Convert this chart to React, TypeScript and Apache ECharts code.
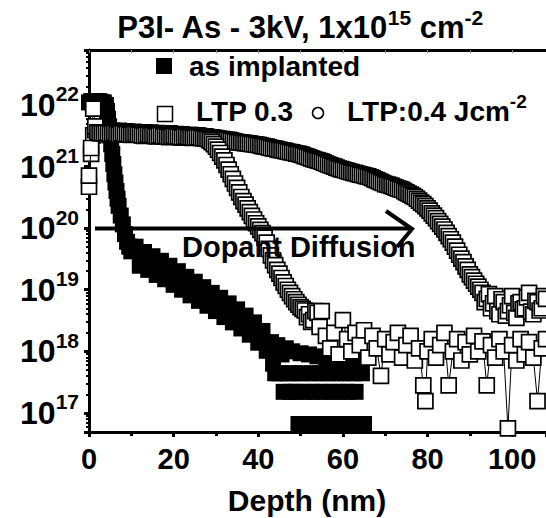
import React, { useEffect, useRef } from "react";
import * as echarts from "echarts";

const FONT = '"Liberation Sans", Arial, Helvetica, sans-serif';

// As implanted profile: [depth nm, concentration cm^-3]
const asImplanted: number[][] = [
  [0, 1.1e22], [0.5, 1.15e22], [1, 1.15e22], [1.5, 1.15e22], [2, 1.15e22], [2.5, 1.15e22], [3, 1.1e22], [3.5, 1.1e22],
  [4, 1.0e22], [4.25, 8e21], [4.5, 6e21], [4.75, 4.5e21], [5, 3.2e21], [5.25, 2.3e21], [5.5, 1.6e21], [5.75, 1.1e21],
  [6, 7.5e20], [6.25, 5.5e20], [6.5, 4e20], [6.75, 3e20], [7, 2.3e20], [7.5, 1.6e20], [8, 1.15e20], [8.5, 8e19],
  [9, 6e19], [9.5, 5e19], [10, 4.2e19], [11, 5.0e19], [12, 2.45e19], [13, 4.1e19], [14, 2.1e19], [15, 3.5e19],
  [16, 1.74e19], [17, 2.95e19], [18, 1.48e19], [19, 2.45e19], [20, 1.2e19], [21, 2.0e19], [22, 1.0e19], [23, 1.62e19],
  [24, 8.1e18], [25, 1.35e19], [26, 6.6e18], [27, 1.1e19], [28, 5.5e18], [29, 8.9e18], [30, 4.5e18], [31, 7.4e18],
  [32, 3.6e18], [33, 6.0e18], [34, 2.95e18], [35, 4.8e18], [36, 2.35e18], [37, 3.8e18], [38, 1.86e18], [39, 2.95e18],
  [40, 1.38e18], [41, 2.14e18], [42, 1.02e18], [43, 1.41e18], [43.5, 6.3e17], [44, 4.4e17], [44.5, 1.26e18], [45, 4.4e17],
  [45.5, 8.9e17], [46, 2.2e17], [46.5, 1.12e18], [47, 4.4e17], [47.5, 2.2e17], [48, 1.0e18], [48.5, 4.4e17], [49, 2.2e17],
  [49.5, 6.6e16], [50, 9.3e17], [50.5, 4.4e17], [51, 2.2e17], [51.5, 6.6e16], [52, 8.9e17], [52.5, 4.4e17], [53, 2.2e17],
  [53.5, 6.6e16], [54, 8.3e17], [54.5, 4.4e17], [55, 2.2e17], [55.5, 6.6e16], [56, 7.9e17], [56.5, 4.4e17], [57, 2.2e17],
  [57.5, 6.6e16], [58, 7.9e17], [58.5, 4.4e17], [59, 2.2e17], [59.5, 6.6e16], [60, 7.9e17], [60.5, 4.4e17], [61, 2.2e17],
  [61.5, 6.6e16], [62, 7.9e17], [62.5, 4.4e17], [63, 2.2e17], [63.5, 6.6e16], [64, 7.9e17], [64.5, 4.4e17], [65, 6.6e16],
];

// LTP 0.4 J/cm2 profile
const ltp04: number[][] = [
  [0, 4.7e20], [0.5, 1.6e21], [1, 3.2e21], [1.5, 3.9e21], [2, 3.8e21], [2.5, 3.7e21], [3, 3.6e21], [3.5, 3.8e21],
  [4, 3.9e21], [4.5, 3.7e21], [5, 3.7e21], [5.5, 3.8e21], [6, 3.6e21], [6.5, 3.7e21], [7, 3.8e21], [7.5, 3.6e21],
  [8, 3.5e21], [8.5, 3.7e21], [9, 3.7e21], [9.5, 3.55e21], [10, 3.5e21], [10.5, 3.65e21], [11, 3.6e21], [11.5, 3.5e21],
  [12, 3.47e21], [12.5, 3.6e21], [13, 3.6e21], [13.5, 3.45e21], [14, 3.47e21], [14.5, 3.55e21], [15, 3.4e21], [15.5, 3.45e21],
  [16, 3.5e21], [16.5, 3.35e21], [17, 3.4e21], [17.5, 3.45e21], [18, 3.3e21], [18.5, 3.4e21], [19, 3.47e21], [19.5, 3.3e21],
  [20, 3.3e21], [20.5, 3.35e21], [21, 3.24e21], [21.5, 3.3e21], [22, 3.3e21], [22.5, 3.2e21], [23, 3.16e21], [23.5, 3.25e21],
  [24, 3.24e21], [24.5, 3.12e21], [25, 3.1e21], [25.5, 3.2e21], [26, 3.16e21], [26.5, 3.05e21], [27, 3.0e21], [27.5, 3.08e21],
  [28, 3.0e21], [28.5, 2.97e21], [29, 2.95e21], [29.5, 2.93e21], [30, 2.9e21], [30.5, 2.85e21], [31, 2.8e21], [31.5, 2.78e21],
  [32, 2.75e21], [32.5, 2.72e21], [33, 2.7e21], [33.5, 2.65e21], [34, 2.6e21], [34.5, 2.55e21], [35, 2.5e21], [35.5, 2.48e21],
  [36, 2.45e21], [36.5, 2.42e21], [37, 2.4e21], [37.5, 2.37e21], [38, 2.35e21], [38.5, 2.32e21], [39, 2.3e21], [39.5, 2.27e21],
  [40, 2.24e21], [40.5, 2.2e21], [41, 2.14e21], [41.5, 2.12e21], [42, 2.1e21], [42.5, 2.05e21], [43, 2.0e21], [43.5, 1.97e21],
  [44, 1.95e21], [44.5, 1.9e21], [45, 1.86e21], [45.5, 1.84e21], [46, 1.82e21], [46.5, 1.78e21], [47, 1.74e21], [47.5, 1.72e21],
  [48, 1.7e21], [48.5, 1.66e21], [49, 1.62e21], [49.5, 1.6e21], [50, 1.58e21], [50.5, 1.53e21], [51, 1.48e21], [51.5, 1.45e21],
  [52, 1.41e21], [52.5, 1.36e21], [53, 1.32e21], [53.5, 1.29e21], [54, 1.26e21], [54.5, 1.23e21], [55, 1.2e21], [55.5, 1.16e21],
  [56, 1.12e21], [56.5, 1.08e21], [57, 1.05e21], [57.5, 1.02e21], [58, 1.0e21], [58.5, 9.6e20], [59, 9.3e20], [59.5, 9.1e20],
  [60, 8.9e20], [60.5, 8.7e20], [61, 8.5e20], [61.5, 8.3e20], [62, 8.1e20], [62.5, 7.9e20], [63, 7.8e20], [63.5, 7.6e20],
  [64, 7.4e20], [64.5, 7.3e20], [65, 7.2e20], [65.5, 7.0e20], [66, 6.9e20], [66.5, 6.7e20], [67, 6.5e20], [67.5, 6.2e20],
  [68, 6.0e20], [68.5, 5.8e20], [69, 5.6e20], [69.5, 5.4e20], [70, 5.2e20], [70.5, 5.1e20], [71, 5.0e20], [71.5, 4.85e20],
  [72, 4.7e20], [72.5, 4.55e20], [73, 4.4e20], [73.5, 4.3e20], [74, 4.2e20], [74.5, 4.0e20], [75, 3.8e20], [75.5, 3.65e20],
  [76, 3.5e20], [76.5, 3.35e20], [77, 3.2e20], [77.5, 3.0e20], [78, 2.8e20], [78.5, 2.6e20], [79, 2.45e20], [79.5, 2.28e20],
  [80, 2.1e20], [80.5, 1.92e20], [81, 1.74e20], [81.5, 1.6e20], [82, 1.45e20], [82.5, 1.3e20], [83, 1.17e20], [83.5, 1.06e20],
  [84, 9.5e19], [84.5, 8.4e19], [85, 7.4e19], [85.5, 6.6e19], [86, 5.8e19], [86.5, 5.0e19], [87, 4.3e19], [87.5, 3.7e19],
  [88, 3.2e19], [88.5, 2.8e19], [89, 2.4e19], [89.5, 2.1e19], [90, 1.78e19], [90.5, 1.6e19], [91, 1.41e19], [91.5, 1.25e19],
  [92, 1.12e19], [92.5, 1.0e19], [93, 8.9e18], [93.5, 6.3e18], [94, 7.1e18], [94.5, 8.5e18], [95, 5.0e18], [95.5, 6.0e18],
  [96, 7.9e18], [96.5, 4.5e18], [97, 4.0e18], [97.5, 7.0e18], [98, 6.3e18], [98.5, 3.8e18], [99, 4.5e18], [99.5, 5.6e18],
  [100, 7.9e18], [100.5, 4.2e18], [101, 3.5e18], [101.5, 6.0e18], [102, 6.3e18], [102.5, 4.8e18], [103, 5.0e18], [103.5, 7.5e18],
  [104, 8.9e18], [104.5, 4.4e18], [105, 4.0e18], [105.5, 6.6e18], [106, 6.3e18], [106.5, 4.6e18], [107, 5.0e18], [107.5, 7.9e18],
  [108, 7.1e18],
];

// LTP 0.3 J/cm2 profile
const ltp03: number[][] = [
  [0, 7.1e20], [0.5, 2.0e21], [1, 8.7e21], [1.5, 4.5e21], [2, 3.6e21], [2.5, 3.5e21], [3, 3.5e21], [3.5, 3.45e21],
  [4, 3.55e21], [4.5, 3.5e21], [5, 3.4e21], [5.5, 3.45e21], [6, 3.55e21], [6.5, 3.4e21], [7, 3.3e21], [7.5, 3.45e21],
  [8, 3.5e21], [8.5, 3.35e21], [9, 3.4e21], [9.5, 3.3e21], [10, 3.25e21], [10.5, 3.35e21], [11, 3.4e21], [11.5, 3.3e21],
  [12, 3.3e21], [12.5, 3.2e21], [13, 3.15e21], [13.5, 3.25e21], [14, 3.3e21], [14.5, 3.2e21], [15, 3.25e21], [15.5, 3.15e21],
  [16, 3.1e21], [16.5, 3.2e21], [17, 3.25e21], [17.5, 3.1e21], [18, 3.15e21], [18.5, 3.05e21], [19, 3.0e21], [19.5, 3.1e21],
  [20, 3.15e21], [20.5, 3.05e21], [21, 3.1e21], [21.5, 3.0e21], [22, 2.95e21], [22.5, 3.05e21], [23, 3.1e21], [23.5, 2.98e21],
  [24, 3.0e21], [24.5, 2.92e21], [25, 2.95e21], [25.5, 3.0e21], [26, 3.0e21], [26.5, 2.92e21], [27, 2.9e21], [27.5, 2.85e21],
  [28, 2.8e21], [28.5, 2.65e21], [29, 2.5e21], [29.5, 2.3e21], [30, 2.1e21], [30.5, 1.88e21], [31, 1.66e21], [31.5, 1.45e21],
  [32, 1.26e21], [32.5, 1.06e21], [33, 8.9e20], [33.5, 7.5e20], [34, 6.3e20], [34.5, 5.3e20], [35, 4.5e20], [35.5, 3.8e20],
  [36, 3.2e20], [36.5, 2.75e20], [37, 2.4e20], [37.5, 2.1e20], [38, 1.82e20], [38.5, 1.58e20], [39, 1.38e20], [39.5, 1.2e20],
  [40, 1.07e20], [40.5, 9.4e19], [41, 8.3e19], [41.5, 7.0e19], [42, 5.8e19], [42.5, 4.6e19], [43, 3.6e19], [43.5, 3.0e19],
  [44, 2.5e19], [44.5, 2.1e19], [45, 1.82e19], [45.5, 1.55e19], [46, 1.32e19], [46.5, 1.15e19], [47, 1.0e19], [47.5, 8.9e18],
  [48, 7.9e18], [48.5, 7.0e18], [49, 6.3e18], [49.5, 5.7e18], [50, 5.2e18], [50.5, 4.9e18], [51, 4.6e18], [51.5, 3.6e18],
  [52, 4.0e18], [52.5, 3.0e18], [53, 3.2e18], [53.5, 4.5e18], [54, 4.2e18], [54.5, 2.5e18], [55, 4.5e18], [56, 1.78e18],
  [57, 1.12e18], [58, 2.0e18], [59, 8.9e17], [60, 3.2e18], [61, 1.58e18], [62, 1.0e18], [63, 2.0e18], [64, 1.26e18],
  [65, 2.2e18], [66, 7.9e17], [67, 1.78e18], [68, 1.12e18], [69, 4.0e17], [70, 1.58e18], [71, 8.9e17], [72, 1.41e18],
  [73, 2.0e18], [74, 7.9e17], [75, 1.26e18], [76, 1.78e18], [77, 7.1e17], [78, 1.12e18], [79, 2.8e17], [79.5, 1.55e17],
  [80, 1.0e18], [81, 1.58e18], [82, 7.9e17], [83, 1.26e18], [84, 2.0e18], [85, 2.8e17], [86, 1.0e18], [87, 1.58e18],
  [88, 7.1e17], [89, 1.41e18], [90, 8.9e17], [91, 1.78e18], [92, 1.0e18], [93, 1.45e18], [94, 2.8e17], [95, 1.26e18],
  [96, 7.9e17], [97, 1.58e18], [98, 1.0e18], [99, 5.6e16], [100, 1.26e18], [101, 7.1e17], [102, 1.58e18], [103, 8.9e17],
  [104, 1.41e18], [105, 7.9e17], [106, 1.55e17], [107, 1.12e18], [108, 1.58e18],
];

const X_MIN = 0;
const X_MAX = 108;
const Y_MIN = 4.9e16;
const Y_MAX = 7.8e22;

export default function App() {
  const ref = useRef<HTMLDivElement>(null);

  useEffect(() => {
    document.body.style.margin = "0";
    if (!ref.current) return;
    const chart = echarts.init(ref.current, undefined, { renderer: "svg" });

    const bold = { fontFamily: FONT, fontWeight: "bold" as const, color: "#000" };
    const hollow = {
      type: "line",
      symbol: "rect",
      symbolSize: 15,
      showSymbol: true,
      itemStyle: { color: "#fff", borderColor: "#000", borderWidth: 1.7, opacity: 1 },
      lineStyle: { color: "#000", width: 1 },
      emphasis: { disabled: true },
    };

    chart.setOption({
      animation: false,
      backgroundColor: "#fff",
      grid: { left: 89, right: 0, top: 50, bottom: 86, containLabel: false },
      xAxis: [
        {
          type: "value",
          min: X_MIN,
          max: X_MAX,
          interval: 20,
          axisLine: { show: true, onZero: false, lineStyle: { color: "#000", width: 3 } },
          axisTick: { show: true, inside: false, length: 5, lineStyle: { color: "#000", width: 3 } },
          minorTick: { show: true, splitNumber: 2, length: 4, lineStyle: { color: "#000", width: 3 } },
          splitLine: { show: false },
          axisLabel: { ...bold, fontSize: 29, margin: 12, showMaxLabel: false },
        },
        {
          type: "value",
          position: "top",
          min: X_MIN,
          max: X_MAX,
          interval: 10,
          axisLine: { show: true, onZero: false, lineStyle: { color: "#000", width: 3 } },
          axisTick: { show: true, inside: true, length: 3, lineStyle: { color: "#888", width: 1 } },
          splitLine: { show: false },
          axisLabel: { show: false },
        },
      ],
      yAxis: {
        type: "log",
        logBase: 10,
        min: Y_MIN,
        max: Y_MAX,
        axisLine: { show: true, onZero: false, lineStyle: { color: "#000", width: 3 } },
        axisTick: { show: true, inside: false, length: 5, lineStyle: { color: "#000", width: 3 } },
        minorTick: { show: true, splitNumber: 9, length: 3, lineStyle: { color: "#000", width: 2 } },
        splitLine: { show: false },
        axisLabel: {
          margin: 10,
          showMinLabel: false,
          showMaxLabel: false,
          formatter: (v: number) => `{b|10}{s|${Math.round(Math.log10(v))}}`,
          rich: {
            b: { ...bold, fontSize: 32 },
            s: { ...bold, fontSize: 21, padding: [0, 0, 22, 0] },
          },
        },
      },
      series: [
        {
          name: "as implanted",
          type: "scatter",
          data: asImplanted,
          symbol: "rect",
          symbolSize: 16,
          itemStyle: { color: "#000", opacity: 1 },
          emphasis: { disabled: true },
          z: 2,
        },
        { ...hollow, name: "LTP:0.4", data: ltp04, z: 3 },
        { ...hollow, name: "LTP 0.3", data: ltp03, z: 4 },
      ],
      graphic: [
        {
          type: "text",
          z: 10,
          style: {
            x: 300,
            y: 27,
            align: "center",
            verticalAlign: "middle",
            text: "{n|P3I- As - 3kV, 1x10}{s|15}{n| cm}{s|-2}",
            rich: {
              n: { fontFamily: FONT, fontWeight: "bold", fontSize: 31, fill: "#000" },
              s: { fontFamily: FONT, fontWeight: "bold", fontSize: 21, fill: "#000", padding: [0, 0, 20, 0] },
            },
          },
        },
        { type: "rect", z: 10, shape: { x: 156, y: 58, width: 16, height: 16 }, style: { fill: "#000" } },
        {
          type: "text",
          z: 10,
          style: { x: 189, y: 66, verticalAlign: "middle", text: "as implanted", fontFamily: FONT, fontWeight: "bold", fontSize: 28, fill: "#000" },
        },
        {
          type: "rect",
          z: 10,
          shape: { x: 157.5, y: 106.5, width: 15, height: 15 },
          style: { fill: "#fff", stroke: "#000", lineWidth: 1.5 },
        },
        {
          type: "text",
          z: 10,
          style: { x: 196, y: 111, verticalAlign: "middle", text: "LTP 0.3", fontFamily: FONT, fontWeight: "bold", fontSize: 28, fill: "#000" },
        },
        {
          type: "circle",
          z: 10,
          shape: { cx: 318, cy: 113, r: 5.5 },
          style: { fill: "#fff", stroke: "#000", lineWidth: 1.5 },
        },
        {
          type: "text",
          z: 10,
          style: {
            x: 347,
            y: 111,
            verticalAlign: "middle",
            text: "{n|LTP:0.4 Jcm}{s|-2}",
            rich: {
              n: { fontFamily: FONT, fontWeight: "bold", fontSize: 28, fill: "#000" },
              s: { fontFamily: FONT, fontWeight: "bold", fontSize: 19, fill: "#000", padding: [0, 0, 20, 0] },
            },
          },
        },
        {
          type: "text",
          z: 10,
          style: { x: 182, y: 247, verticalAlign: "middle", text: "Dopant Diffusion", fontFamily: FONT, fontWeight: "bold", fontSize: 29, fill: "#000" },
        },
        {
          type: "line",
          z: 10,
          shape: { x1: 95, y1: 228.5, x2: 411, y2: 228.5 },
          style: { stroke: "#000", lineWidth: 4 },
        },
        {
          type: "polyline",
          z: 10,
          shape: { points: [[386, 211], [412, 229], [397, 247]] },
          style: { stroke: "#000", lineWidth: 4, fill: null },
        },
        {
          type: "text",
          z: 10,
          style: { x: 307, y: 500, align: "center", verticalAlign: "middle", text: "Depth (nm)", fontFamily: FONT, fontWeight: "bold", fontSize: 30, fill: "#000" },
        },
      ],
    });

    return () => chart.dispose();
  }, []);

  return <div ref={ref} style={{ position: "absolute", left: 0, top: 0, width: 546, height: 518 }} />;
}
